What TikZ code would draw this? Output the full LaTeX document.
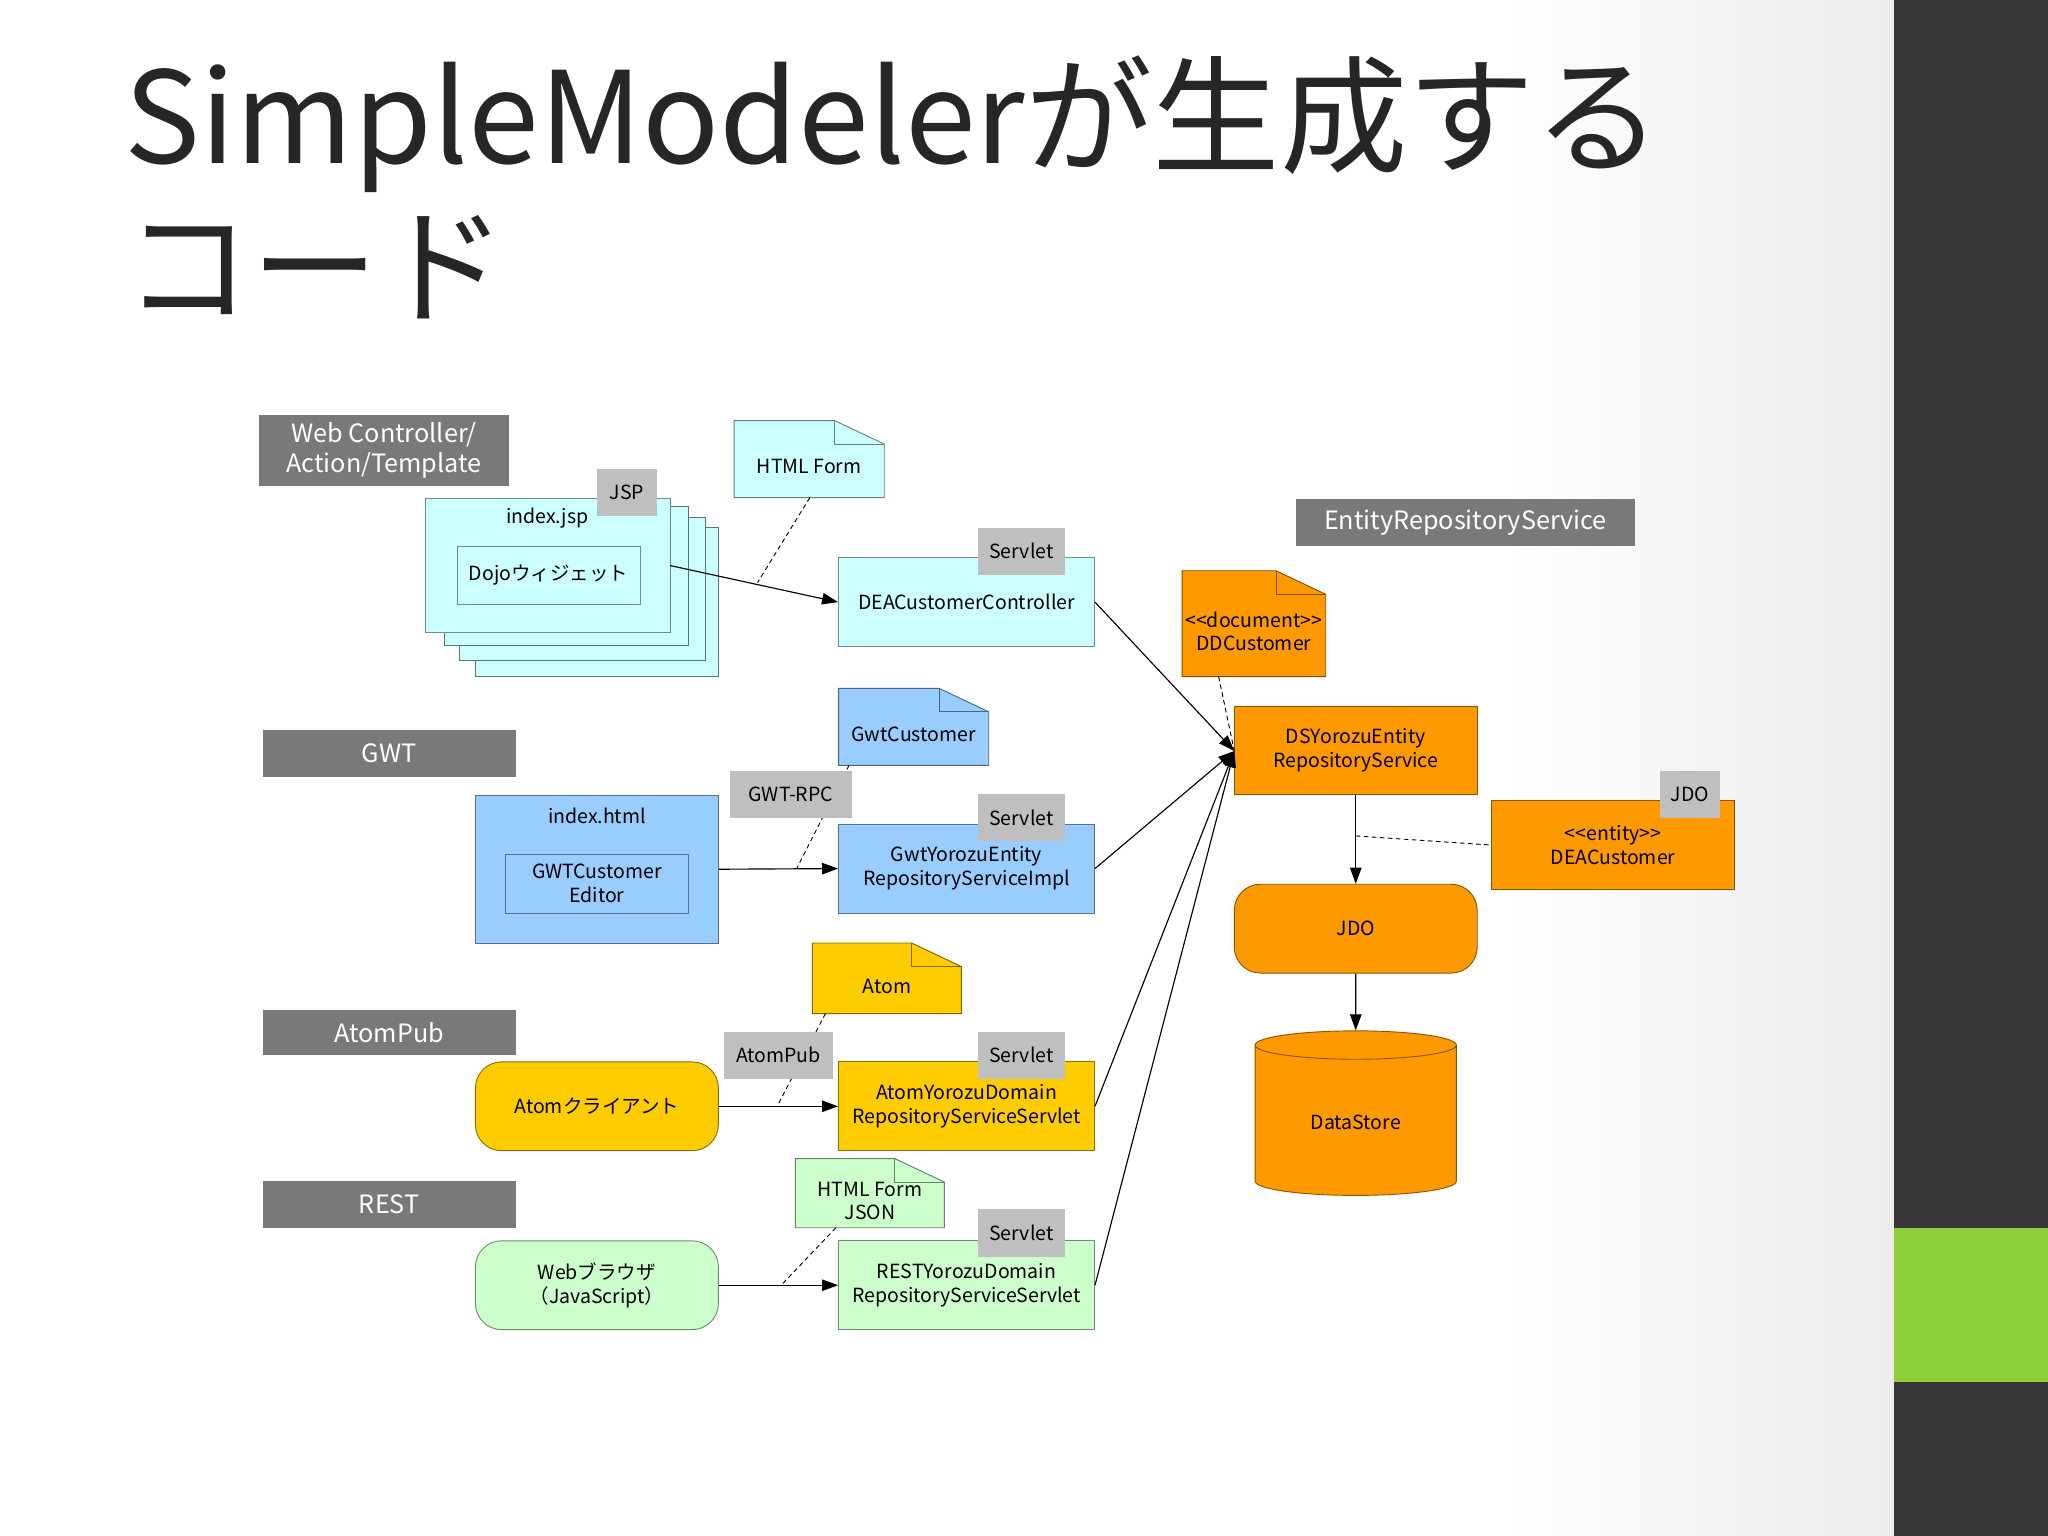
\documentclass[tikz,border=0pt]{standalone}
\usepackage{fontspec}
\setmainfont{Noto Sans CJK JP}
\usetikzlibrary{shapes.geometric,arrows.meta}
\newcommand\bx[7]{\node[#6,minimum width={(#4-#2)*0.02cm},minimum height={(#5-#3)*0.02cm}] (#1) at ({(#2+#4)/2},{(#3+#5)/2}) {#7};}
\newcommand\nt[7]{\draw[#6!50!black,line width=0.4pt,fill=#6] (#2,#3) -- ({#4-38},#3) -- (#4,{#3+18}) -- (#4,#5) -- (#2,#5) -- cycle;
\draw[#6!50!black,line width=0.4pt] ({#4-38},#3) -- ({#4-38},{#3+18}) -- (#4,{#3+18});
\node[font=\fontsize{8.5}{10}\selectfont,align=center,inner sep=0pt,minimum width={(#4-#2)*0.02cm},minimum height={(#5-#3)*0.02cm}] (#1) at ({(#2+#4)/2},{(#3+#5)/2+6}) {#7};}
\definecolor{cy}{HTML}{CCFFFF}
\definecolor{bl}{HTML}{99CCFF}
\definecolor{ye}{HTML}{FFCC00}
\definecolor{gr}{HTML}{CCFFCC}
\definecolor{or}{HTML}{FF9900}
\definecolor{dk}{HTML}{363638}
\definecolor{lg}{HTML}{8DCF3A}
\begin{document}
\begin{tikzpicture}[x=0.02cm,y=-0.02cm,
 f/.style={font=\fontsize{8.5}{10.5}\selectfont,align=center,inner sep=1pt},
 box/.style={f,draw=#1!55!black,fill=#1,line width=0.4pt},
 rbox/.style={box=#1,rounded corners=0.4cm},
 lab/.style={fill=gray!95!black,text=white,font=\fontsize{11}{13}\selectfont,align=center,inner sep=1pt},
 tag/.style={fill=gray!50,font=\fontsize{8.5}{10}\selectfont,inner sep=1pt},
 ar/.style={-{Triangle[length=7pt,width=5pt]},line width=0.5pt},
 ds/.style={dashed,line width=0.4pt,dash pattern=on 2pt off 1.5pt}]
\useasboundingbox (0,0) rectangle (1568,1176);
\shade[left color=white,right color=gray!15] (1150,0) rectangle (1450,1176);
\fill[dk] (1450,0) rectangle (1568,1176);
\fill[lg] (1450,940) rectangle (1568,1058);
\node[anchor=base west,inner sep=0pt,font=\fontsize{55.5}{64}\selectfont,text=black!85] (t1) at (95,125) {SimpleModelerが生成する};
\node[anchor=base west,inner sep=0pt,font=\fontsize{55.5}{64}\selectfont,text=black!85] (t2) at (95,240) {コード};
% gray labels
\bx{l1}{198}{318}{390}{372}{lab}{Web Controller/\\Action/Template}
\bx{l2}{992}{382}{1252}{418}{lab}{EntityRepositoryService}
\bx{l3}{201}{559}{395}{595}{lab}{GWT}
\bx{l4}{201}{773}{395}{808}{lab}{AtomPub}
\bx{l5}{201}{904}{395}{940}{lab}{REST}
% JSP stack
\draw[cy!45!black,fill=cy,line width=0.4pt] (364,404) rectangle (550,518);
\draw[cy!45!black,fill=cy,line width=0.4pt] (352,396) rectangle (540,506);
\draw[cy!45!black,fill=cy,line width=0.4pt] (340,388) rectangle (527,494);
\bx{jsp}{326}{382}{513}{484}{box=cy}{}
\node[f] (jspl) at (419,397) {index.jsp};
\bx{dojo}{350}{418}{490}{463}{box=cy}{Dojoウィジェット}
\nt{hf}{562}{322}{677}{381}{cy}{HTML Form}
\bx{dea}{642}{427}{838}{495}{box=cy}{DEACustomerController}
% GWT
\nt{gc}{642}{527}{757}{586}{bl}{GwtCustomer}
\bx{ih}{364}{609}{550}{722}{box=bl}{}
\node[f] (ihl) at (457,625) {index.html};
\bx{ge}{387}{654}{527}{699}{box=bl}{GWTCustomer\\Editor}
\bx{gy}{642}{631}{838}{699}{box=bl}{GwtYorozuEntity\\RepositoryServiceImpl}
% Atom
\nt{at}{622}{722}{736}{776}{ye}{Atom}
\bx{ac}{364}{813}{550}{881}{rbox=ye}{Atomクライアント}
\bx{ay}{642}{813}{838}{881}{box=ye}{AtomYorozuDomain\\RepositoryServiceServlet}
% REST
\nt{hj}{609}{887}{723}{940}{gr}{HTML Form\\JSON}
\bx{wb}{364}{950}{550}{1018}{rbox=gr}{Webブラウザ\\（JavaScript）}
\bx{ry}{642}{950}{838}{1018}{box=gr}{RESTYorozuDomain\\RepositoryServiceServlet}
% orange
\nt{dd}{905}{437}{1015}{518}{or}{<{}<document>{}>\\DDCustomer}
\bx{dsy}{945}{541}{1131}{608}{box=or}{DSYorozuEntity\\RepositoryService}
\bx{dc}{1142}{613}{1328}{681}{box=or}{<{}<entity>{}>\\DEACustomer}
\bx{jdo}{945}{677}{1131}{745}{rbox=or}{JDO}
\node[cylinder,shape border rotate=90,aspect=0.3,draw=or!55!black,fill=or,f,minimum width=154*0.02cm,minimum height=126*0.02cm] (st) at (1038,859) {DataStore};
% connectors
\coordinate (c0) at (513,433);
\coordinate (c1) at (580,446);
\coordinate (c2) at (610,665);
\coordinate (c3) at (595,847);
\coordinate (c4) at (598,984);
\coordinate (m) at (945,575);
\coordinate (c5) at (1038,640);
\draw[ar] (c0) -- (dea.west);
\draw[ar] (ih.east) -- (gy.west);
\draw[ar] (ac.east) -- (ay.west);
\draw[ar] (wb.east) -- (ry.west);
\draw[ds] (620,381) -- (c1);
\draw[ds] (650,586) -- (c2);
\draw[ds] (632,776) -- (c3);
\draw[ds] (640,940) -- (c4);
\draw[ar] (dea.east) -- (m);
\draw[ar] (gy.east) -- (m);
\draw[ar] (ay.east) -- (m);
\draw[ar] (ry.east) -- (m);
\draw[ds] (933,518) -- (m);
\draw[ar] (dsy.south) -- (jdo.north);
\draw[ds] (c5) -- (dc.west);
\draw[ar] (jdo.south) -- (st.north);
% tags
\bx{t1}{457}{359}{503}{395}{tag}{JSP}
\bx{s1}{749}{404}{815}{440}{tag}{Servlet}
\bx{t2}{559}{590}{652}{626}{tag}{GWT-RPC}
\bx{s2}{749}{608}{815}{644}{tag}{Servlet}
\bx{t3}{554}{790}{638}{826}{tag}{AtomPub}
\bx{s3}{749}{790}{815}{826}{tag}{Servlet}
\bx{s4}{749}{926}{815}{962}{tag}{Servlet}
\bx{t4}{1271}{590}{1317}{626}{tag}{JDO}
\end{tikzpicture}
\end{document}
